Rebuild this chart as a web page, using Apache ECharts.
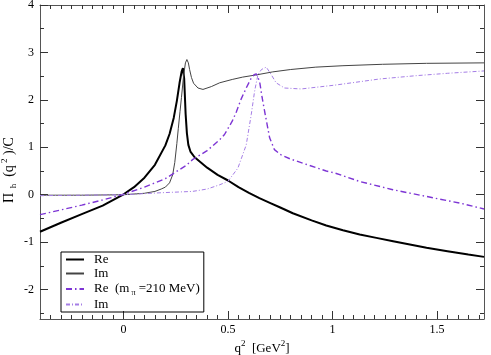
<!DOCTYPE html>
<html>
<head>
<meta charset="UTF-8">
<title>Pi_h</title>
<script src="https://cdn.jsdelivr.net/npm/echarts@6/dist/echarts.min.js"></script>
</head>
<body style="margin:0;background:#fff;">
<div id="main" style="width:491px;height:355px;"></div>
<script>
// axis ranges and ticks
var xMin = -0.4, xMax = 1.725;
var yMin = -2.62, yMax = 4;
var xMajor = [0, 0.5, 1, 1.5];
var yMajor = [-2, -1, 0, 1, 2, 3, 4];
var yMinor = [-2.5, -1.5, -0.5, 0.5, 1.5, 2.5, 3.5];

// Re, physical pion mass (thick black)
var reX = [-0.40, -0.30, -0.20, -0.10, 0.00, 0.05, 0.10, 0.15, 0.20, 0.22, 0.24, 0.255, 0.268, 0.278, 0.284,
  0.290, 0.297, 0.303, 0.310, 0.320, 0.340, 0.370, 0.40, 0.45, 0.50, 0.55, 0.60, 0.65, 0.70, 0.75, 0.81,
  0.90, 0.97, 1.05, 1.13, 1.21, 1.29, 1.37, 1.45, 1.55, 1.65, 1.725];
var reY = [-0.78, -0.59, -0.41, -0.23, 0.01, 0.16, 0.36, 0.63, 1.04, 1.28, 1.62, 1.98, 2.36, 2.60, 2.67,
  2.45, 1.70, 1.30, 1.05, 0.91, 0.79, 0.68, 0.57, 0.42, 0.30, 0.16, 0.04, -0.07, -0.17, -0.27, -0.39,
  -0.54, -0.65, -0.75, -0.84, -0.91, -0.98, -1.05, -1.12, -1.19, -1.26, -1.31];

// Im, physical pion mass (thin black)
var imX = [-0.40, -0.20, 0.00, 0.10, 0.15, 0.18, 0.20, 0.22, 0.235, 0.245, 0.255, 0.262, 0.270, 0.277, 0.287,
  0.296, 0.303, 0.310, 0.316, 0.325, 0.335, 0.356, 0.38, 0.42, 0.46, 0.52, 0.57, 0.64, 0.714, 0.80, 0.92,
  1.05, 1.24, 1.45, 1.725];
var imY = [-0.01, -0.01, 0.00, 0.03, 0.07, 0.12, 0.16, 0.25, 0.42, 0.68, 1.08, 1.40, 1.75, 2.05, 2.50,
  2.78, 2.85, 2.78, 2.64, 2.47, 2.35, 2.25, 2.22, 2.28, 2.36, 2.43, 2.48, 2.53, 2.59, 2.64, 2.69,
  2.72, 2.75, 2.77, 2.78];

// Re, m_pi = 210 MeV (violet dash-dot)
var re210X = [-0.40, -0.30, -0.20, -0.10, 0.00, 0.10, 0.20, 0.30, 0.33, 0.40, 0.46, 0.483, 0.52, 0.54, 0.563,
  0.587, 0.61, 0.625, 0.635, 0.651, 0.663, 0.675, 0.699, 0.722, 0.754, 0.80, 0.882, 0.97, 1.01, 1.13,
  1.289, 1.448, 1.608, 1.725];
var re210Y = [-0.42, -0.32, -0.22, -0.11, 0.01, 0.16, 0.34, 0.62, 0.74, 0.93, 1.16, 1.27, 1.55, 1.75, 2.02,
  2.25, 2.45, 2.53, 2.55, 2.39, 2.05, 1.76, 1.20, 0.95, 0.84, 0.75, 0.63, 0.50, 0.46, 0.28,
  0.105, -0.035, -0.175, -0.30];

// Im, m_pi = 210 MeV (light violet dash-dot)
var im210X = [-0.40, -0.20, 0.00, 0.17, 0.33, 0.40, 0.46, 0.499, 0.547, 0.587, 0.611, 0.627, 0.643, 0.66,
  0.683, 0.707, 0.73, 0.77, 0.85, 1.01, 1.225, 1.40, 1.55, 1.725];
var im210Y = [-0.02, -0.01, 0.00, 0.04, 0.07, 0.12, 0.21, 0.28, 0.56, 1.05, 1.69, 2.18, 2.53, 2.64,
  2.69, 2.53, 2.36, 2.25, 2.23, 2.31, 2.44, 2.51, 2.56, 2.61];

function pairs(xs, ys) {
  var out = [];
  for (var i = 0; i < xs.length; i++) out.push([xs[i], ys[i]]);
  return out;
}
var xMinor = [];
for (var t = -0.35; t < xMax; t += 0.05) {
  var v = Math.round(t * 100) / 100;
  if (Math.abs(v * 2 - Math.round(v * 2)) > 1e-6) xMinor.push(v);
}

var font = '"Liberation Serif", "DejaVu Serif", serif';
var axisColor = '#555';

function xAx(pos, ticks, len, labels, withLine) {
  return {
    type: 'value', position: pos, min: xMin, max: xMax,
    axisLine: { show: withLine, onZero: false, lineStyle: { color: axisColor, width: 1 } },
    axisTick: { show: true, inside: true, length: len, customValues: ticks, lineStyle: { color: '#333' } },
    axisLabel: { show: labels, customValues: ticks, color: '#000', fontFamily: font, fontSize: 12, margin: 5,
      formatter: function (v) { return String(v); } },
    splitLine: { show: false }
  };
}
function yAx(pos, ticks, len, labels, withLine) {
  return {
    type: 'value', position: pos, min: yMin, max: yMax,
    axisLine: { show: withLine, onZero: false, lineStyle: { color: axisColor, width: 1 } },
    axisTick: { show: true, inside: true, length: len, customValues: ticks, lineStyle: { color: '#333' } },
    axisLabel: { show: labels, customValues: ticks, color: '#000', fontFamily: font, fontSize: 12, margin: 6 },
    splitLine: { show: false }
  };
}

var xAxes = [xAx('bottom', xMajor, 8, true, true), xAx('bottom', xMinor, 4, false, false),
  xAx('top', xMajor, 8, false, true), xAx('top', xMinor, 4, false, false)];
xAxes[0].name = '{n|q}{sup|2}{n|  [GeV}{sup|2}{n|]}';
xAxes[0].nameLocation = 'middle';
xAxes[0].nameGap = 20;
xAxes[0].nameMoveOverlap = false;
xAxes[0].nameTextStyle = {
  fontFamily: font, color: '#000',
  rich: {
    n: { fontFamily: font, fontSize: 13, lineHeight: 16, verticalAlign: 'bottom' },
    sup: { fontFamily: font, fontSize: 9, lineHeight: 16, verticalAlign: 'top' }
  }
};

var yAxes = [yAx('left', yMajor, 8, true, true), yAx('left', yMinor, 4, false, false),
  yAx('right', yMajor, 8, false, true), yAx('right', yMinor, 4, false, false)];
yAxes[0].name = '{n|Π}{sub|  h}{n|  (q}{sup| 2}{n| )/C}{sp|}';
yAxes[0].nameLocation = 'middle';
yAxes[0].nameRotate = 90;
yAxes[0].nameGap = 22;
yAxes[0].nameMoveOverlap = false;
yAxes[0].nameTextStyle = {
  fontFamily: font, color: '#000',
  rich: {
    n: { fontFamily: font, fontSize: 14, lineHeight: 18, verticalAlign: 'middle' },
    sub: { fontFamily: font, fontSize: 9, lineHeight: 18, verticalAlign: 'bottom' },
    sup: { fontFamily: font, fontSize: 9, lineHeight: 18, verticalAlign: 'top' },
    sp: { width: 16, lineHeight: 18 }
  }
};

var legendText = {
  re: 'Re',
  im: 'Im',
  re210: 'Re  (m{sub| π} =210 MeV)',
  im210: 'Im'
};

var chart = echarts.init(document.getElementById('main'));
chart.setOption({
  animation: false,
  backgroundColor: '#fff',
  grid: { left: 40, right: 7, top: 5, bottom: 36, containLabel: false, outerBoundsMode: 'none' },
  xAxis: xAxes,
  yAxis: yAxes,
  legend: {
    left: 61, top: 252, orient: 'vertical',
    data: ['re', 'im', 're210', 'im210'],
    borderColor: '#000', borderWidth: 1, borderRadius: 0,
    padding: [1, 4, 1, 4],
    itemWidth: 18, itemHeight: 12, itemGap: 1,
    itemStyle: { opacity: 0, borderWidth: 0 },
    formatter: function (name) { return legendText[name]; },
    textStyle: {
      fontFamily: font, fontSize: 13, color: '#000', padding: [0, 0, 0, 5], lineHeight: 13,
      rich: { sub: { fontFamily: font, fontSize: 8, lineHeight: 16, verticalAlign: 'bottom' } }
    }
  },
  series: [
    { name: 're', type: 'line', data: pairs(reX, reY), showSymbol: false, symbol: 'none',
      lineStyle: { color: '#000', width: 2 }, itemStyle: { color: '#000' } },
    { name: 'im', type: 'line', data: pairs(imX, imY), showSymbol: false, symbol: 'none',
      lineStyle: { color: '#444', width: 1 }, itemStyle: { color: '#444' } },
    { name: 're210', type: 'line', data: pairs(re210X, re210Y), showSymbol: false, symbol: 'none',
      lineStyle: { color: '#7d35d4', width: 1.4, type: [6, 3, 1.5, 3] }, itemStyle: { color: '#7d35d4' } },
    { name: 'im210', type: 'line', data: pairs(im210X, im210Y), showSymbol: false, symbol: 'none',
      lineStyle: { color: '#a57ee6', width: 1, type: [4, 2, 1, 2] }, itemStyle: { color: '#a57ee6' } }
  ]
});
</script>
</body>
</html>
